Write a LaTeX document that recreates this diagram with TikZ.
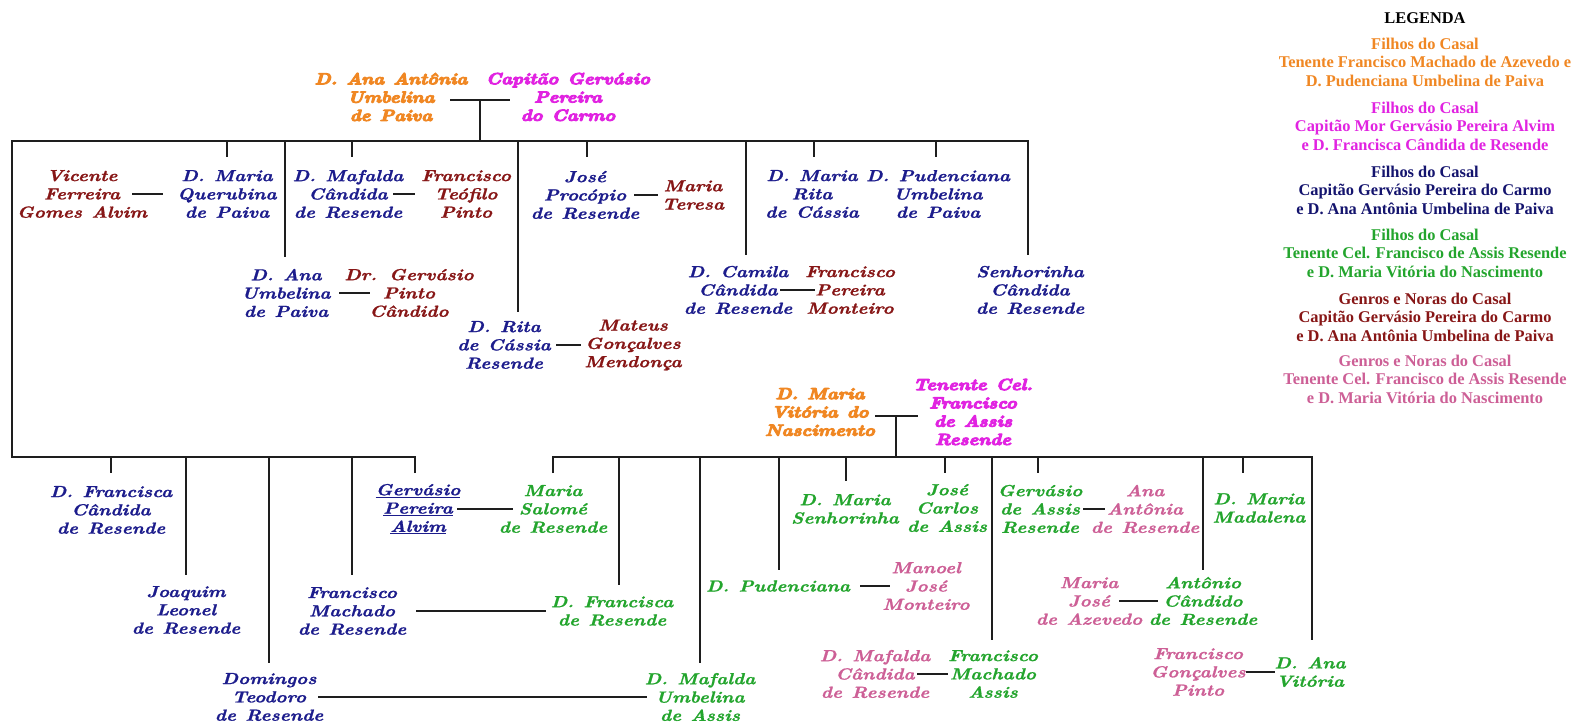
\documentclass[tikz,border=0pt]{standalone}
\usepackage{fontspec}
\newfontfamily\treefont{lmroman10-bolditalic}[Extension=.otf,FakeStretch=1.18,FakeBold=1.2,WordSpace=1.2]
\newfontfamily\heavyfont{lmroman10-bolditalic}[Extension=.otf,FakeStretch=1.15,FakeBold=6.5,WordSpace=1.2]
\newfontfamily\legendfont{Liberation Serif}
\definecolor{cblue}{RGB}{28,28,140}
\definecolor{cred}{RGB}{135,22,22}
\definecolor{corange}{RGB}{240,135,35}
\definecolor{cmag}{RGB}{225,35,225}
\definecolor{cgreen}{RGB}{35,165,45}
\definecolor{cpink}{RGB}{205,95,150}
\definecolor{lblue}{RGB}{20,20,110}
\definecolor{linecol}{RGB}{30,30,30}
\begin{document}
\begin{tikzpicture}[x=1pt,y=-1pt,
  person/.style={align=center,inner sep=0pt,font=\treefont\fontsize{16}{18.3}\selectfont},
  heavy/.style={align=center,inner sep=0pt,font=\heavyfont\fontsize{16}{18.3}\selectfont},
  legend/.style={align=center,inner sep=0pt,font=\legendfont\bfseries\fontsize{16.4}{18.5}\selectfont},
  tree/.style={draw=linecol,line width=1.5pt},
  wed/.style={draw=linecol,line width=1.5pt}]
\fill[white] (0,0) rectangle (1572,723);
\useasboundingbox (0,0) rectangle (1572,723);

% ---------- top couple ----------
\node[heavy,text=corange] (anaant) at (391,97) {D. Ana Antônia\\Umbelina\\de Paiva};
\node[heavy,text=cmag] (capgerv) at (568,97) {Capitão Gervásio\\Pereira\\do Carmo};
\coordinate (u1) at (480,100);
\draw[wed] ([xshift=59pt,yshift=-3pt]anaant.center) -- ([xshift=-58pt,yshift=-3pt]capgerv.center);
\draw[tree] (u1) -- (480,141);

% ---------- family 1 frame ----------
\draw[tree] (415,473) -- (415,457) -- (12,457) -- (12,141) -- (1028,141) -- (1028,255);
\draw[tree] (227,141) -- (227,157);
\draw[tree] (285,141) -- (285,257);
\draw[tree] (352,141) -- (352,157);
\draw[tree] (518,141) -- (518,312);
\draw[tree] (587,141) -- (587,157);
\draw[tree] (746,141) -- (746,255);
\draw[tree] (814,141) -- (814,157);
\draw[tree] (936,141) -- (936,157);
\draw[tree] (111,457) -- (111,473);
\draw[tree] (186,457) -- (186,575);
\draw[tree] (269,457) -- (269,663);
\draw[tree] (352,457) -- (352,575);

% top row
\node[person,text=cred] (vicente) at (82,194) {Vicente\\Ferreira\\Gomes Alvim};
\node[person,text=cblue] (querubina) at (227,194) {D. Maria\\Querubina\\de Paiva};
\node[person,text=cblue] (mafalda) at (348,194) {D. Mafalda\\Cândida\\de Resende};
\node[person,text=cred] (teofilo) at (466,194) {Francisco\\Teófilo\\Pinto};
\node[person,text=cblue] (procopio) at (585,195) {José\\Procópio\\de Resende};
\node[person,text=cred] (teresa) at (693,195) {Maria\\Teresa};
\node[person,text=cblue] (mrita) at (812,194) {D. Maria\\Rita\\de Cássia};
\node[person,text=cblue] (pudenciana) at (938,194) {D. Pudenciana\\Umbelina\\de Paiva};
\draw[wed] ([xshift=50pt]vicente.center) -- ([xshift=-64pt]querubina.center);
\draw[wed] ([xshift=45pt]mafalda.center) -- ([xshift=-51pt]teofilo.center);
\draw[wed] ([xshift=49pt]procopio.center) -- ([xshift=-35pt]teresa.center);

% second row
\node[person,text=cblue] (dana) at (286,293) {D. Ana\\Umbelina\\de Paiva};
\node[person,text=cred] (gervasio1) at (409,293) {Dr. Gervásio\\Pinto\\Cândido};
\node[person,text=cblue] (camila) at (738,290) {D. Camila\\Cândida\\de Resende};
\node[person,text=cred] (fmonteiro) at (850,290) {Francisco\\Pereira\\Monteiro};
\node[person,text=cblue] (senhorinha) at (1030,290) {Senhorinha\\Cândida\\de Resende};
\draw[wed] ([xshift=53pt]dana.center) -- ([xshift=-39pt]gervasio1.center);
\draw[wed] ([xshift=42pt]camila.center) -- ([xshift=-35pt]fmonteiro.center);

% third row
\node[person,text=cblue] (drita) at (504,345) {D. Rita\\de Cássia\\Resende};
\node[person,text=cred] (mateus) at (633,345) {Mateus\\Gonçalves\\Mendonça};
\draw[wed] ([xshift=52pt]drita.center) -- ([xshift=-52pt]mateus.center);

% family 1 lower children
\node[person,text=cblue] (dfrancisca) at (111,510) {D. Francisca\\Cândida\\de Resende};
\node[person,text=cblue] (joaquim) at (186,610) {Joaquim\\Leonel\\de Resende};
\node[person,text=cblue] (domingos) at (269,697) {Domingos\\Teodoro\\de Resende};
\node[person,text=cblue] (fmachado) at (352,611) {Francisco\\Machado\\de Resende};
\node[person,text=cblue] (gervasio2) at (418,509) {\underline{Gervásio}\\\underline{Pereira}\\\underline{Alvim}};

% ---------- second couple ----------
\node[heavy,text=corange] (mvit) at (820,412) {D. Maria\\Vitória do\\Nascimento};
\node[heavy,text=cmag] (tenente) at (973,412) {Tenente Cel.\\Francisco\\de Assis\\Resende};
\coordinate (u2) at (896,416);
\draw[wed] ([xshift=55pt,yshift=-4pt]mvit.center) -- ([xshift=-55pt,yshift=-4pt]tenente.center);
\draw[tree] (u2) -- (896,457);

\draw[tree] (553,473) -- (553,457) -- (1312,457) -- (1312,640);
\draw[tree] (619,457) -- (619,585);
\draw[tree] (700,457) -- (700,663);
\draw[tree] (779,457) -- (779,570);
\draw[tree] (846,457) -- (846,481);
\draw[tree] (945,457) -- (945,473);
\draw[tree] (992,457) -- (992,640);
\draw[tree] (1038,457) -- (1038,473);
\draw[tree] (1203,457) -- (1203,570);
\draw[tree] (1243,457) -- (1243,473);

\node[person,text=cgreen] (salome) at (553,509) {Maria\\Salomé\\de Resende};
\node[person,text=cgreen] (dfrancisca2) at (612,611) {D. Francisca\\de Resende};
\node[person,text=cgreen] (mafalda2) at (700,697) {D. Mafalda\\Umbelina\\de Assis};
\node[person,text=cgreen] (pudenciana2) at (778,586) {D. Pudenciana};
\node[person,text=cpink] (manoel) at (926,586) {Manoel\\José\\Monteiro};
\node[person,text=cgreen] (senhorinha2) at (845,509) {D. Maria\\Senhorinha};
\node[person,text=cgreen] (josecarlos) at (947,508) {José\\Carlos\\de Assis};
\node[person,text=cgreen] (fmachado2) at (993,674) {Francisco\\Machado\\Assis};
\node[person,text=cpink] (mafalda3) at (875,674) {D. Mafalda\\Cândida\\de Resende};
\node[person,text=cgreen] (gervasio3) at (1040,509) {Gervásio\\de Assis\\Resende};
\node[person,text=cpink] (anaantonia) at (1145,509) {Ana\\Antônia\\de Resende};
\node[person,text=cgreen] (antonio) at (1203,601) {Antônio\\Cândido\\de Resende};
\node[person,text=cpink] (mariajose) at (1089,601) {Maria\\José\\de Azevedo};
\node[person,text=cgreen] (madalena) at (1259,508) {D. Maria\\Madalena};
\node[person,text=cgreen] (anavitoria) at (1310,672) {D. Ana\\Vitória};
\node[person,text=cpink] (fgoncalves) at (1198,672) {Francisco\\Gonçalves\\Pinto};

\draw[wed] ([xshift=39pt]gervasio2.center) -- ([xshift=-40pt]salome.center);
\draw[wed] ([xshift=64pt]fmachado.center) -- ([xshift=-66pt]dfrancisca2.center);
\draw[wed] ([xshift=49pt]domingos.center) -- ([xshift=-53pt]mafalda2.center);
\draw[wed] ([xshift=82pt]pudenciana2.center) -- ([xshift=-36pt]manoel.center);
\draw[wed] ([xshift=43pt]gervasio3.center) -- ([xshift=-40pt]anaantonia.center);
\draw[wed] ([xshift=30pt]mariajose.center) -- ([xshift=-45pt]antonio.center);
\draw[wed] ([xshift=42pt]mafalda3.center) -- ([xshift=-45pt]fmachado2.center);
\draw[wed] ([xshift=48pt]fgoncalves.center) -- ([xshift=-35pt]anavitoria.center);

% ---------- legend ----------
\node[legend,text=black] (leg) at (1425,18) {LEGENDA};
\node[legend,text=corange] (leg1) at (1425,62) {Filhos do Casal\\Tenente Francisco Machado de Azevedo e\\D. Pudenciana Umbelina de Paiva};
\node[legend,text=cmag] (leg2) at (1425,126) {Filhos do Casal\\Capitão Mor Gervásio Pereira Alvim\\e D. Francisca Cândida de Resende};
\node[legend,text=lblue] (leg3) at (1425,190) {Filhos do Casal\\Capitão Gervásio Pereira do Carmo\\e D. Ana Antônia Umbelina de Paiva};
\node[legend,text=cgreen] (leg4) at (1425,253) {Filhos do Casal\\Tenente Cel. Francisco de Assis Resende\\e D. Maria Vitória do Nascimento};
\node[legend,text=cred] (leg5) at (1425,317) {Genros e Noras do Casal\\Capitão Gervásio Pereira do Carmo\\e D. Ana Antônia Umbelina de Paiva};
\node[legend,text=cpink] (leg6) at (1425,379) {Genros e Noras do Casal\\Tenente Cel. Francisco de Assis Resende\\e D. Maria Vitória do Nascimento};
\end{tikzpicture}
\end{document}
